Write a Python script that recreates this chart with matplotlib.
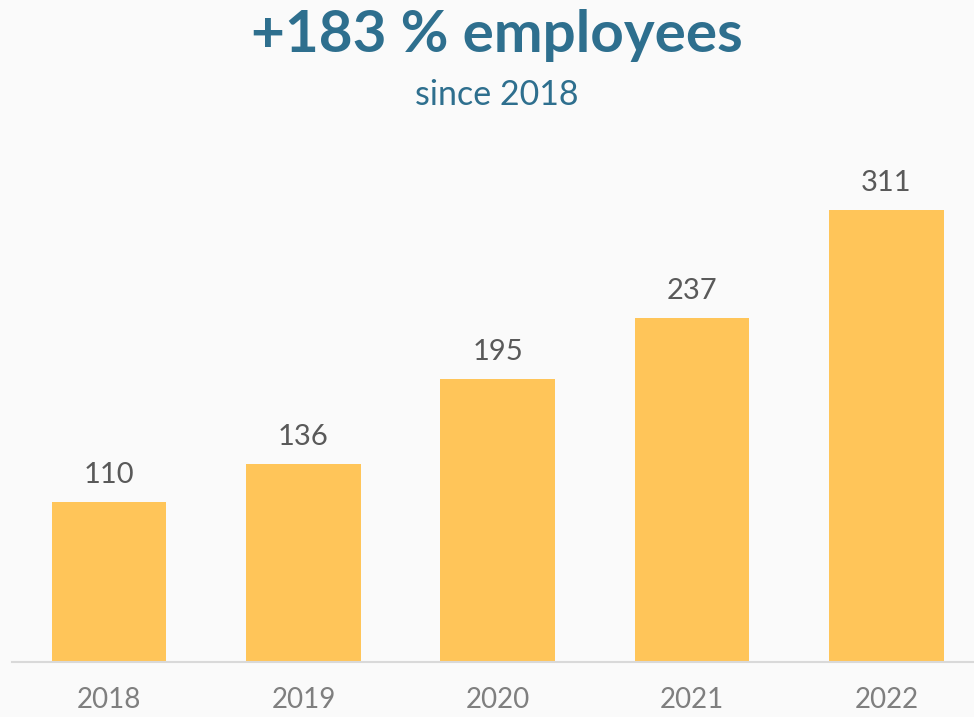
import matplotlib.pyplot as plt

years = ['2018', '2019', '2020', '2021', '2022']
employees = [110, 136, 195, 237, 311]

title = '+183 % employees'
subtitle = 'since 2018'

bg = '#fafafa'
bar_color = '#ffc559'
title_color = '#2e6f8e'

plt.rcParams['font.family'] = ['Lato', 'DejaVu Sans']

fig = plt.figure(figsize=(9.74, 7.17), dpi=100, facecolor=bg)
# axes reaches a bit past the right edge, like the cropped original
ax = fig.add_axes([12 / 974, 55 / 717, 971.5 / 974, 520 / 717])
ax.set_facecolor(bg)

x = range(len(years))
bars = ax.bar(x, employees, width=0.59, color=bar_color, zorder=2)
ax.set_xlim(-0.5, len(years) - 0.5)
ax.set_ylim(0, 520 / 1.4534)

for b, v in zip(bars, employees):
    ax.annotate(str(v), (b.get_x() + b.get_width() / 2, v),
                xytext=(0, 10), textcoords='offset points',
                ha='center', va='bottom', fontsize=21, color='#595959')

for s in ['top', 'right', 'left']:
    ax.spines[s].set_visible(False)
ax.spines['bottom'].set_color('#d9d9d9')
ax.spines['bottom'].set_linewidth(1.5)
ax.set_yticks([])
ax.set_xticks(list(x))
ax.set_xticklabels(years, fontsize=20, color='#7f7f7f')
ax.tick_params(axis='x', length=0, pad=18)

fig.text(497 / 974, 1 - 36 / 717, title, ha='center', va='center',
         fontsize=42, fontweight='bold', color=title_color)
fig.text(497 / 974, 1 - 95 / 717, subtitle, ha='center', va='center',
         fontsize=24.5, color=title_color)

fig.savefig('out.png', dpi=100, facecolor=bg)
